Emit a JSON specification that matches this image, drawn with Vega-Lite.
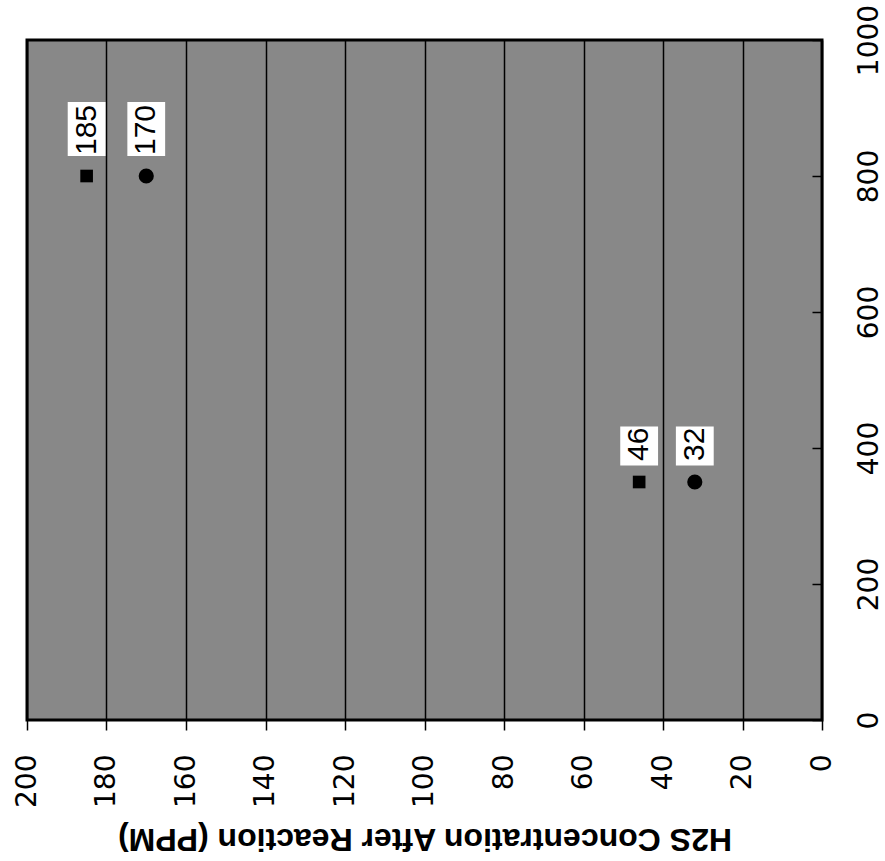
{
  "$schema": "https://vega.github.io/schema/vega-lite/v6.json",
  "width": 795,
  "height": 680,
  "autosize": {"type": "none"},
  "padding": {"left": 27, "top": 40, "right": 63, "bottom": 141},
  "background": "white",
  "config": {
    "font": "Liberation Sans",
    "view": {"fill": "#888888", "stroke": "black", "strokeWidth": 3}
  },
  "data": {
    "values": [
      {"series": "Square", "level": 800, "h2s": 185},
      {"series": "Square", "level": 350, "h2s": 46},
      {"series": "Circle", "level": 800, "h2s": 170},
      {"series": "Circle", "level": 350, "h2s": 32}
    ]
  },
  "encoding": {
    "x": {
      "field": "h2s",
      "type": "quantitative",
      "scale": {"domain": [0, 200], "reverse": true, "nice": false},
      "axis": {
        "title": "H2S Concentration After Reaction (PPM)",
        "values": [0, 20, 40, 60, 80, 100, 120, 140, 160, 180, 200],
        "grid": true,
        "gridColor": "black",
        "gridWidth": 1.5,
        "gridOpacity": 1,
        "domain": false,
        "ticks": true,
        "tickColor": "black",
        "tickSize": 10,
        "tickWidth": 1.5,
        "labelAngle": 270,
        "labelAlign": "right",
        "labelBaseline": "middle",
        "labelFont": "DejaVu Sans",
        "labelFontSize": 28,
        "labelColor": "black",
        "labelPadding": 24,
        "labelFlush": false,
        "labelOverlap": false,
        "titleAngle": 180,
        "titleBaseline": "bottom",
        "titleFontSize": 32,
        "titleFontWeight": "bold",
        "titleColor": "black",
        "titlePadding": 14
      }
    },
    "y": {
      "field": "level",
      "type": "quantitative",
      "scale": {"domain": [0, 1000], "nice": false},
      "axis": {
        "orient": "right",
        "title": null,
        "format": "d",
        "values": [0, 200, 400, 600, 800, 1000],
        "grid": false,
        "domain": false,
        "ticks": true,
        "tickColor": "black",
        "tickSize": -10,
        "tickWidth": 1.5,
        "labelAngle": 270,
        "labelAlign": "center",
        "labelBaseline": "top",
        "labelFont": "DejaVu Sans",
        "labelFontSize": 28,
        "labelColor": "black",
        "labelPadding": 43,
        "labelFlush": false,
        "labelOverlap": false
      }
    }
  },
  "layer": [
    {
      "transform": [{"filter": "datum.h2s >= 100"}],
      "mark": {
        "type": "point",
        "filled": true,
        "shape": "M-0.7,-1L0.7,-1L0.7,1L-0.7,1Z",
        "size": 2916,
        "color": "white",
        "opacity": 1,
        "yOffset": -47
      }
    },
    {
      "transform": [{"filter": "datum.h2s < 100"}],
      "mark": {
        "type": "point",
        "filled": true,
        "shape": "M-0.97,-1L0.97,-1L0.97,1L-0.97,1Z",
        "size": 1521,
        "color": "white",
        "opacity": 1,
        "yOffset": -36
      }
    },
    {
      "mark": {"type": "point", "filled": true, "color": "black", "opacity": 1},
      "encoding": {
        "shape": {
          "field": "series",
          "type": "nominal",
          "scale": {"domain": ["Square", "Circle"], "range": ["square", "circle"]},
          "legend": null
        },
        "size": {
          "field": "series",
          "type": "nominal",
          "scale": {"domain": ["Square", "Circle"], "range": [160, 230]},
          "legend": null
        }
      }
    },
    {
      "mark": {
        "type": "text",
        "angle": 270,
        "align": "left",
        "baseline": "middle",
        "fontSize": 30,
        "color": "black",
        "yOffset": -21
      },
      "encoding": {
        "text": {"field": "h2s", "type": "quantitative"}
      }
    }
  ]
}
